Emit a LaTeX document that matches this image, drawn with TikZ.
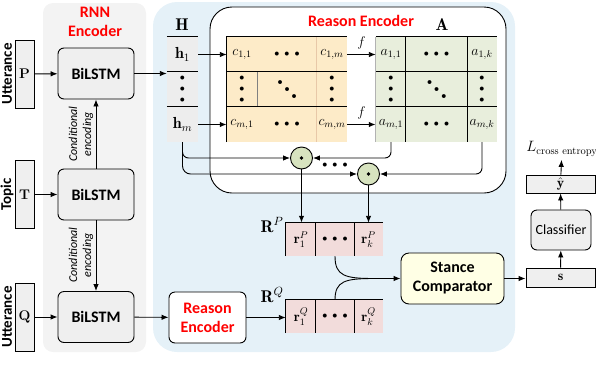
\documentclass[tikz,border=0pt]{standalone}
\usepackage{fix-cm}
\usepackage{fontspec}
\usepackage{amsmath,amssymb}
\usepackage{xcolor}
\usepackage{tikz}
\usetikzlibrary{arrows.meta,positioning,calc}
\newfontfamily\carlito{Carlito}
\definecolor{panelgray}{HTML}{F3F3F3}
\definecolor{panelblue}{HTML}{E5F1F8}
\definecolor{boxgray}{HTML}{EFEFEF}
\definecolor{hgray}{HTML}{EDEDED}
\definecolor{corange}{HTML}{FDEBC8}
\definecolor{cline}{HTML}{E8C8A8}
\definecolor{agreen}{HTML}{E8EEDC}
\definecolor{rpink}{HTML}{F2DCDB}
\definecolor{dotgreen}{HTML}{D7E3BF}
\definecolor{cream}{HTML}{FFFFE5}
\newcommand{\mdot}{$\scriptstyle\bullet$}
\newcommand{\hdotrow}{\mdot\hspace{5pt}\mdot\hspace{5pt}\mdot}
\newcommand{\vdotcol}{\mdot\\\mdot\\\mdot}

\begin{document}
\begin{tikzpicture}[x=1pt,y=-1pt,
  arrow/.style={-{Latex[length=7pt,width=5.5pt]},line width=0.9pt},
  thickarrow/.style={arrow,line width=1.6pt},
  lstm/.style={rectangle,draw,line width=0.9pt,rounded corners=6pt,fill=boxgray,minimum width=76pt,minimum height=51pt,font=\carlito\bfseries\fontsize{16}{18}\selectfont},
  inbox/.style={rectangle,draw,line width=0.9pt,fill=boxgray,minimum width=19pt,minimum height=68pt,inner sep=0pt,font=\bfseries\fontsize{14}{16}\selectfont},
  sidelbl/.style={rotate=90,font=\carlito\bfseries\fontsize{15}{17}\selectfont},
  condlbl/.style={rotate=90,align=center,font=\carlito\itshape\fontsize{12}{14}\selectfont},
  redlbl/.style={align=center,text=red,font=\carlito\bfseries\fontsize{16}{19}\selectfont},
  cell/.style={rectangle,inner sep=0pt,minimum height=35pt,align=center,font=\fontsize{14}{11}\selectfont},
  rcell/.style={cell,minimum height=33pt},
  diag/.style={inner sep=0pt,rotate=-45,font=\fontsize{14}{11}\selectfont},
  dotp/.style={circle,draw,line width=0.9pt,fill=dotgreen,minimum size=22pt,inner sep=0pt,path picture={\fill[black] (path picture bounding box.center) circle (1.8pt);}},
  grid/.style={line width=0.9pt}]
\useasboundingbox (0,0) rectangle (596,386);
% panels
\fill[panelgray,rounded corners=10pt] (43,3) rectangle (146,352);
\fill[panelblue,rounded corners=24pt] (153,2) rectangle (515,352);
\draw[line width=0.9pt,fill=white,rounded corners=22pt] (210,7) rectangle (506,193);
\node[redlbl] (rnnlbl) at (95,22) {RNN\\Encoder};
\node[redlbl] (retitle) at (361,21) {Reason Encoder};

% inputs
\node[inbox] (inP) at (24.5,74) {P};
\node[inbox] (inT) at (24.5,194.5) {T};
\node[inbox] (inQ) at (24.5,317) {Q};
\node[sidelbl] (lblP) at (7,74) {Utterance};
\node[sidelbl] (lblT) at (7,194.5) {Topic};
\node[sidelbl] (lblQ) at (7,317) {Utterance};

% rnn encoder
\node[lstm] (bl1) at (96,73.5) {BiLSTM};
\node[lstm] (bl2) at (96,194.5) {BiLSTM};
\node[lstm] (bl3) at (96,317) {BiLSTM};
\node[condlbl] (cond1) at (81,134) {Conditional\\encoding};
\node[condlbl] (cond2) at (81,255) {Conditional\\encoding};
\draw[arrow] (inP) -- (bl1); \draw[arrow] (inT) -- (bl2); \draw[arrow] (inQ) -- (bl3);
\draw[arrow] (bl2) -- (bl1); \draw[arrow] (bl2) -- (bl3);

% H
\fill[hgray] (167,37) rectangle (198,142);
\node (Hlbl) at (182,25) {\fontsize{17}{18}\selectfont$\mathbf{H}$};
\node[cell,minimum width=31pt] (h1) at (182.5,54.5) {\fontsize{16}{16}\selectfont$\mathbf{h}_1$};
\node[cell,minimum width=31pt] (hv) at (182.5,89.5) {\vdotcol};
\node[cell,minimum width=31pt] (hm) at (182.5,124.5) {\fontsize{16}{16}\selectfont$\mathbf{h}_m$};
\draw[grid] (h1.north west) -- (h1.north east) (hv.north west) -- (hv.north east) (hm.north west) -- (hm.north east);
\draw[arrow] (bl1.east) -- (bl1.east -| h1.west);

% C
\fill[corange] (227,37) rectangle (347,142);
\node[cell,minimum width=30pt] (c11) at (242,54.5) {$c_{1,1}$};
\node[cell,minimum width=60pt] (c1d) at (287,54.5) {\hdotrow};
\node[cell,minimum width=30pt] (c1m) at (332,54.5) {$c_{1,m}$};
\node[cell,minimum width=30pt] (cv1) at (242,89.5) {\vdotcol};
\node[diag] (cdg) at (287,89.5) {\hdotrow};
\node[cell,minimum width=30pt] (cvm) at (332,89.5) {\vdotcol};
\node[cell,minimum width=30pt] (cm1) at (242,124.5) {$c_{m,1}$};
\node[cell,minimum width=60pt] (cmd) at (287,124.5) {\hdotrow};
\node[cell,minimum width=30pt] (cmm) at (332,124.5) {$c_{m,m}$};
\draw[cline,line width=0.7pt] (c1m.north west) -- (cmm.south west);
\draw[gray,line width=0.7pt] (cv1.north east) -- (cv1.south east);
\draw[grid] (cm1.south west) -- (c11.north west) -- (c1m.north east)
  (cv1.north west) -- (cvm.north east) (cm1.north west) -- (cmm.north east);
\draw[arrow] (h1) -- (c11);
\draw[thickarrow] (hm) -- (cm1);

% A
\fill[agreen] (376,37) rectangle (497,142);
\node (Albl) at (442,25) {\fontsize{17}{18}\selectfont$\mathbf{A}$};
\node[cell,minimum width=30pt] (a11) at (391,54.5) {$a_{1,1}$};
\node[cell,minimum width=61pt] (a1d) at (436.5,54.5) {\hdotrow};
\node[cell,minimum width=30pt] (a1k) at (482,54.5) {$a_{1,k}$};
\node[cell,minimum width=30pt] (av1) at (391,89.5) {\vdotcol};
\node[diag] (adg) at (436.5,89.5) {\hdotrow};
\node[cell,minimum width=30pt] (avk) at (482,89.5) {\vdotcol};
\node[cell,minimum width=30pt] (am1) at (391,124.5) {$a_{m,1}$};
\node[cell,minimum width=61pt] (amd) at (436.5,124.5) {\hdotrow};
\node[cell,minimum width=30pt] (amk) at (482,124.5) {$a_{m,k}$};
\draw[gray!60,line width=0.7pt] (a11.north west) -- (am1.south west);
\draw[grid] (a11.north west) -- (a1k.north east) (av1.north west) -- (avk.north east)
  (am1.north west) -- (amk.north east)
  (a1d.north west) -- (amd.south west) (a1d.north east) -- (amd.south east);
\draw[arrow] (c1m) -- node[above=1pt] {\fontsize{14}{16}\selectfont$f$} (a11);
\draw[thickarrow] (cmm) -- node[above=1pt] {\fontsize{14}{16}\selectfont$f$} (am1);

% dot products
\node[dotp] (o1) at (301.5,158) {};
\node[dotp] (o2) at (368.5,174) {};
\node[cell,minimum height=6pt] (odots) at (335,165) {\hdotrow};
\draw[arrow,rounded corners=6pt] (hm.south) |- (o1.west);
\draw[arrow,rounded corners=8pt] (hm.south) |- (o2.west);
\draw[arrow,rounded corners=6pt] (am1.south) |- (o1.east);
\draw[arrow,rounded corners=6pt] (amk.south) |- (o2.east);

% R^P and R^Q
\fill[rpink] (286,223) rectangle (383,256);
\fill[rpink] (286,300) rectangle (383,333);
\node (RPlbl) at (272,225) {\fontsize{17}{17}\selectfont$\mathbf{R}^P$};
\node (RQlbl) at (272,295) {\fontsize{17}{17}\selectfont$\mathbf{R}^Q$};
\node[rcell,minimum width=30pt] (rp1) at (301,239.5) {$\mathbf{r}_1^P$};
\node[rcell,minimum width=38pt] (rpd) at (335,239.5) {\hdotrow};
\node[rcell,minimum width=29pt] (rpk) at (368.5,239.5) {$\mathbf{r}_k^P$};
\node[rcell,minimum width=30pt] (rq1) at (301,316.5) {$\mathbf{r}_1^Q$};
\node[rcell,minimum width=38pt] (rqd) at (335,316.5) {\hdotrow};
\node[rcell,minimum width=29pt] (rqk) at (368.5,316.5) {$\mathbf{r}_k^Q$};
\draw[grid] (rp1.south west) -- (rp1.north west) -- (rpk.north east)
  (rpd.north west) -- (rpd.south west) (rpd.north east) -- (rpd.south east);
\draw[grid] (rq1.south west) -- (rq1.north west) -- (rqk.north east)
  (rqd.north west) -- (rqd.south west) (rqd.north east) -- (rqd.south east);
\draw[thickarrow] (o1) -- (o1 |- rp1.north);
\draw[arrow] (o2) -- (o2 |- rpk.north);

% reason encoder for Q
\node[rectangle,draw,line width=0.9pt,rounded corners=6pt,fill=white,minimum width=77pt,minimum height=51pt,redlbl] (reQ) at (207.5,317.5) {Reason\\Encoder};
\draw[arrow] (bl3) -- (reQ);
\draw[arrow] (reQ.east) -- (reQ.east -| rq1.west);

% stance comparator and classifier
\node[rectangle,draw,line width=0.9pt,rounded corners=8pt,fill=cream,minimum width=103pt,minimum height=51pt,align=center,font=\carlito\bfseries\fontsize{16}{19}\selectfont] (stance) at (452.5,278.5) {Stance\\Comparator};
\coordinate (mrg) at (374,278.5);
\draw[line width=0.9pt] (rpd.south) .. controls (335,276) and (345,278.5) .. (mrg);
\draw[line width=0.9pt] (rqd.north) .. controls (335,281) and (345,278.5) .. (mrg);
\draw[arrow] (mrg) -- (stance.west);
\node[rectangle,draw,line width=0.9pt,fill=boxgray,minimum width=69pt,minimum height=19pt,inner sep=0pt] (sbox) at (560.5,277.5) {\fontsize{14}{16}\selectfont$\mathbf{s}$};
\node[rectangle,draw,line width=0.9pt,rounded corners=6pt,fill=boxgray,minimum width=60pt,minimum height=40pt,font=\carlito\fontsize{14}{16}\selectfont] (cls) at (561,230) {Classifier};
\node[rectangle,draw,line width=0.9pt,fill=boxgray,minimum width=69pt,minimum height=18pt,inner sep=0pt] (yhat) at (560.5,184) {\fontsize{14}{16}\selectfont$\hat{\mathbf{y}}$};
\node (loss) at (562,149) {\fontsize{15}{16}\selectfont$L_{\text{cross entropy}}$};
\draw[arrow] (stance.east) -- (stance.east -| sbox.west);
\draw[arrow] (sbox) -- (cls);
\draw[arrow] (cls) -- (yhat);
\draw[arrow] (yhat) -- (loss);
\end{tikzpicture}
\end{document}
